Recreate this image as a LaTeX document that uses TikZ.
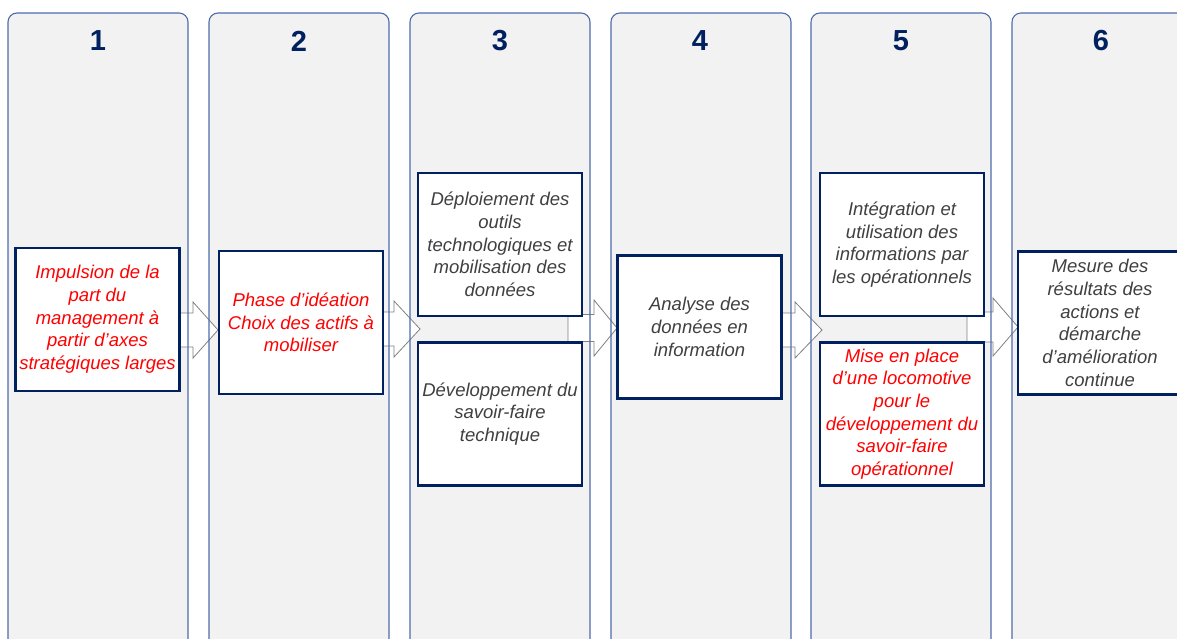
\documentclass[tikz,border=0pt]{standalone}
\usepackage{fontspec}
\setmainfont{Liberation Sans}
\usetikzlibrary{calc}
\definecolor{colfill}{RGB}{242,242,242}
\definecolor{colborder}{RGB}{79,108,170}
\definecolor{navy}{RGB}{0,32,96}
\definecolor{txtgray}{RGB}{64,64,64}
\definecolor{txtred}{RGB}{255,0,0}
\definecolor{arrgray}{RGB}{128,128,128}
\newcommand\myblockarrow[6]{% xs, xb, xt, c, shaft half, head half
  \draw[blockarrow] (#1,#4-#5) -- (#2,#4-#5) -- (#2,#4-#6) -- (#3,#4) -- (#2,#4+#6) -- (#2,#4+#5) -- (#1,#4+#5) -- cycle;}
\newcommand\mycolumn[2]{% left x, fill or line
  \path[#2] (#1,660) -- (#1,13) -- (#1+180,13) -- (#1+180,660);}
\begin{document}
\begin{tikzpicture}[x=1pt,y=-1pt,
  colbg/.style={fill=colfill,rounded corners=9pt},
  colline/.style={draw=colborder,line width=1.1pt,rounded corners=9pt},
  num/.style={font=\fontsize{29}{32}\selectfont\bfseries,text=navy,inner sep=0pt},
  blockarrow/.style={draw=arrgray,fill=white,line width=0.8pt,line join=miter},
  stepbox/.style={draw=navy,line width=2.2pt,fill=white,inner sep=0pt,
    minimum width=164pt,minimum height=143pt,align=center,
    font=\fontsize{18.5}{22.7}\selectfont\itshape},
  graytxt/.style={stepbox,text=txtgray},
  redtxt/.style={stepbox,text=txtred}]
\useasboundingbox (0,0) rectangle (1177,638);
\clip (0,0) rectangle (1177,638);
\fill[white] (0,0) rectangle (1177,638);
% column backgrounds
\foreach \x in {8,209,410,611,811,1012} {\mycolumn{\x}{colbg}}
% block arrows
\myblockarrow{160}{193}{218}{330}{17}{28}
\myblockarrow{365}{394}{420}{329}{17}{28}
\myblockarrow{568}{594}{617}{328}{13.5}{28}
\myblockarrow{765}{795}{822}{330}{17}{28}
\myblockarrow{967}{993}{1018}{327}{15}{29}
% column outlines
\foreach \x in {8,209,410,611,811,1012} {\mycolumn{\x}{colline}}
% numbers
\node[num] (n1) at (98,41) {1};
\node[num] (n2) at (299,41) {2};
\node[num] (n3) at (500,41) {3};
\node[num] (n4) at (700,41) {4};
\node[num] (n5) at (901,41) {5};
\node[num] (n6) at (1101,41) {6};
% boxes
\node[redtxt,minimum width=164pt] (b1) at (97.5,319.5) {Impulsion de la\\part du\\management à\\partir d’axes\\stratégiques larges};
\node[redtxt] (b2) at (301,322.5) {Phase d’idéation\\Choix des actifs à\\mobiliser};
\node[graytxt] (b3a) at (500,244.5) {Déploiement des\\outils\\technologiques et\\mobilisation des\\données};
\node[graytxt] (b3b) at (500,414) {Développement du\\savoir-faire\\technique};
\node[graytxt] (b4) at (699.5,327) {Analyse des\\données en\\information};
\node[graytxt] (b5a) at (902,244.5) {Intégration et\\utilisation des\\informations par\\les opérationnels};
\node[redtxt] (b5b) at (902,414) {Mise en place\\d’une locomotive\\pour le\\développement du\\savoir-faire\\opérationnel};
\node[graytxt] (b6) at (1100,323) {Mesure des\\résultats des\\actions et\\démarche\\d’amélioration\\continue};
\end{tikzpicture}
\end{document}
